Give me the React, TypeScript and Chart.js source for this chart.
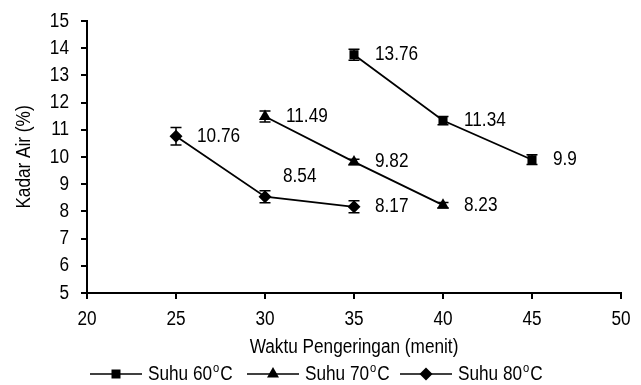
import React, { useEffect, useRef } from "react";
import { Chart, registerables } from "chart.js";

Chart.register(...registerables);

const xTicks = [20, 25, 30, 35, 40, 45, 50];
const yTicks = [5, 6, 7, 8, 9, 10, 11, 12, 13, 14, 15];
const xTitle = "Waktu Pengeringan (menit)";
const yTitle = "Kadar Air (%)";

const seriesNames = ["Suhu 60", "Suhu 70", "Suhu 80"];
const time60 = [35, 40, 45];
const moist60 = [13.76, 11.34, 9.9];
const err60 = [0.2, 0.15, 0.18];
const time70 = [30, 35, 40];
const moist70 = [11.49, 9.82, 8.23];
const err70 = [0.2, 0.1, 0.1];
const time80 = [25, 30, 35];
const moist80 = [10.76, 8.54, 8.17];
const err80 = [0.32, 0.22, 0.22];

const FONT = "'Liberation Sans', Arial, sans-serif";
const FS = 20;
const SX = 0.86;

const markers = ["rect", "triangle", "rectRot"];

function txt(
  ctx: CanvasRenderingContext2D,
  s: string,
  x: number,
  y: number,
  align: CanvasTextAlign = "left",
  size = FS,
  rot = 0
) {
  ctx.save();
  ctx.translate(x, y);
  if (rot) ctx.rotate(rot);
  ctx.scale(SX, 1);
  ctx.font = `${size}px ${FONT}`;
  ctx.fillStyle = "#000";
  ctx.textAlign = align;
  ctx.textBaseline = "middle";
  ctx.fillText(s, 0, 0);
  ctx.restore();
}

function txtWidth(ctx: CanvasRenderingContext2D, s: string, size = FS) {
  ctx.save();
  ctx.font = `${size}px ${FONT}`;
  const w = ctx.measureText(s).width * SX;
  ctx.restore();
  return w;
}

function drawMarker(ctx: CanvasRenderingContext2D, style: string, x: number, y: number) {
  ctx.beginPath();
  if (style === "rect") {
    ctx.rect(x - 4.5, y - 4.5, 9, 9);
  } else if (style === "triangle") {
    ctx.moveTo(x, y - 7);
    ctx.lineTo(x + 6, y + 3.5);
    ctx.lineTo(x - 6, y + 3.5);
    ctx.closePath();
  } else {
    ctx.moveTo(x, y - 6.5);
    ctx.lineTo(x + 6.5, y);
    ctx.lineTo(x, y + 6.5);
    ctx.lineTo(x - 6.5, y);
    ctx.closePath();
  }
  ctx.fillStyle = "#000";
  ctx.fill();
}

const errorPlugin = {
  id: "errbars",
  afterDatasetsDraw(chart: any) {
    const ctx = chart.ctx;
    const ys = chart.scales.y;
    const errs = [err60, err70, err80];
    ctx.save();
    ctx.strokeStyle = "#000";
    ctx.lineWidth = 1.5;
    chart.data.datasets.forEach((ds: any, i: number) => {
      const meta = chart.getDatasetMeta(i);
      meta.data.forEach((pt: any, j: number) => {
        const v = ds.data[j].y;
        const e = errs[i][j];
        const yt = ys.getPixelForValue(v + e);
        const yb = ys.getPixelForValue(v - e);
        ctx.beginPath();
        ctx.moveTo(pt.x, yt);
        ctx.lineTo(pt.x, yb);
        ctx.moveTo(pt.x - 5.5, yt);
        ctx.lineTo(pt.x + 5.5, yt);
        ctx.moveTo(pt.x - 5.5, yb);
        ctx.lineTo(pt.x + 5.5, yb);
        ctx.stroke();
      });
    });
    ctx.restore();
  },
};

const labelOffsets: Record<string, [number, number]> = {
  "2-1": [18, -20],
};

const labelPlugin = {
  id: "vlabels",
  afterDatasetsDraw(chart: any) {
    const ctx = chart.ctx;
    chart.data.datasets.forEach((ds: any, i: number) => {
      const meta = chart.getDatasetMeta(i);
      meta.data.forEach((pt: any, j: number) => {
        const off = labelOffsets[`${i}-${j}`] || [21, 0];
        txt(ctx, String(ds.data[j].y), pt.x + off[0], pt.y + off[1]);
      });
    });
  },
};

const axisTextPlugin = {
  id: "axisText",
  afterDraw(chart: any) {
    const ctx = chart.ctx;
    const xs = chart.scales.x;
    const ys = chart.scales.y;
    const area = chart.chartArea;
    yTicks.forEach((v) => txt(ctx, String(v), area.left - 18, ys.getPixelForValue(v), "right"));
    xTicks.forEach((v) => txt(ctx, String(v), xs.getPixelForValue(v), area.bottom + 26, "center"));
    txt(ctx, xTitle, (area.left + area.right) / 2, area.bottom + 54, "center");
    txt(ctx, yTitle, 24, (area.top + area.bottom) / 2, "center", FS, -Math.PI / 2);
  },
};

const legendPlugin = {
  id: "customLegend",
  afterDraw(chart: any) {
    const ctx = chart.ctx;
    const y = 374;
    const starts = [90, 247, 400];
    seriesNames.forEach((name, i) => {
      const x0 = starts[i];
      ctx.save();
      ctx.strokeStyle = "#000";
      ctx.lineWidth = 1.5;
      ctx.beginPath();
      ctx.moveTo(x0, y);
      ctx.lineTo(x0 + 52, y);
      ctx.stroke();
      ctx.restore();
      drawMarker(ctx, markers[i], x0 + 26, y);
      let tx = x0 + 58;
      txt(ctx, name, tx, y);
      tx += txtWidth(ctx, name) + 1;
      txt(ctx, "o", tx, y - 6, "left", 13);
      tx += txtWidth(ctx, "o", 13) + 1;
      txt(ctx, "C", tx, y);
    });
  },
};

export default function App() {
  const ref = useRef<HTMLCanvasElement>(null);
  useEffect(() => {
    document.body.style.margin = "0";
    const mk = (xs: number[], ys: number[]) => xs.map((x, i) => ({ x, y: ys[i] }));
    const chart = new Chart(ref.current!, {
      type: "line",
      data: {
        datasets: [
          { label: "Suhu 60°C", data: mk(time60, moist60), pointStyle: "rect", pointRadius: 6.4 },
          { label: "Suhu 70°C", data: mk(time70, moist70), pointStyle: "triangle", pointRadius: 7 },
          { label: "Suhu 80°C", data: mk(time80, moist80), pointStyle: "rectRot", pointRadius: 6.5 },
        ].map((d) => ({
          ...d,
          borderColor: "#000",
          backgroundColor: "#000",
          pointBackgroundColor: "#000",
          pointBorderColor: "#000",
          borderWidth: 1.8,
          pointBorderWidth: 0,
          pointHoverRadius: 0,
          fill: false,
          tension: 0,
        })),
      },
      options: {
        responsive: false,
        animation: false,
        events: [],
        layout: { padding: { top: 21, right: 20, bottom: 0, left: 0 } },
        plugins: { legend: { display: false }, tooltip: { enabled: false } },
        scales: {
          x: {
            type: "linear",
            min: 20,
            max: 50,
            afterBuildTicks: (s: any) => {
              s.ticks = xTicks.map((v) => ({ value: v }));
            },
            afterFit: (s: any) => {
              s.height = 92;
            },
            grid: { drawOnChartArea: false, drawTicks: true, tickLength: 6, color: "#000", lineWidth: 2 },
            border: { color: "#000", width: 2 },
            ticks: { display: false },
            title: { display: false },
          },
          y: {
            type: "linear",
            min: 5,
            max: 15,
            afterBuildTicks: (s: any) => {
              s.ticks = yTicks.map((v) => ({ value: v }));
            },
            afterFit: (s: any) => {
              s.width = 87;
            },
            grid: { drawOnChartArea: false, drawTicks: true, tickLength: 6, color: "#000", lineWidth: 2 },
            border: { color: "#000", width: 2 },
            ticks: { display: false },
            title: { display: false },
          },
        },
      },
      plugins: [errorPlugin, labelPlugin, axisTextPlugin, legendPlugin],
    } as any);
    return () => chart.destroy();
  }, []);
  return (
    <div style={{ width: 641, height: 385 }}>
      <canvas ref={ref} width={641} height={385} style={{ display: "block" }} />
    </div>
  );
}
